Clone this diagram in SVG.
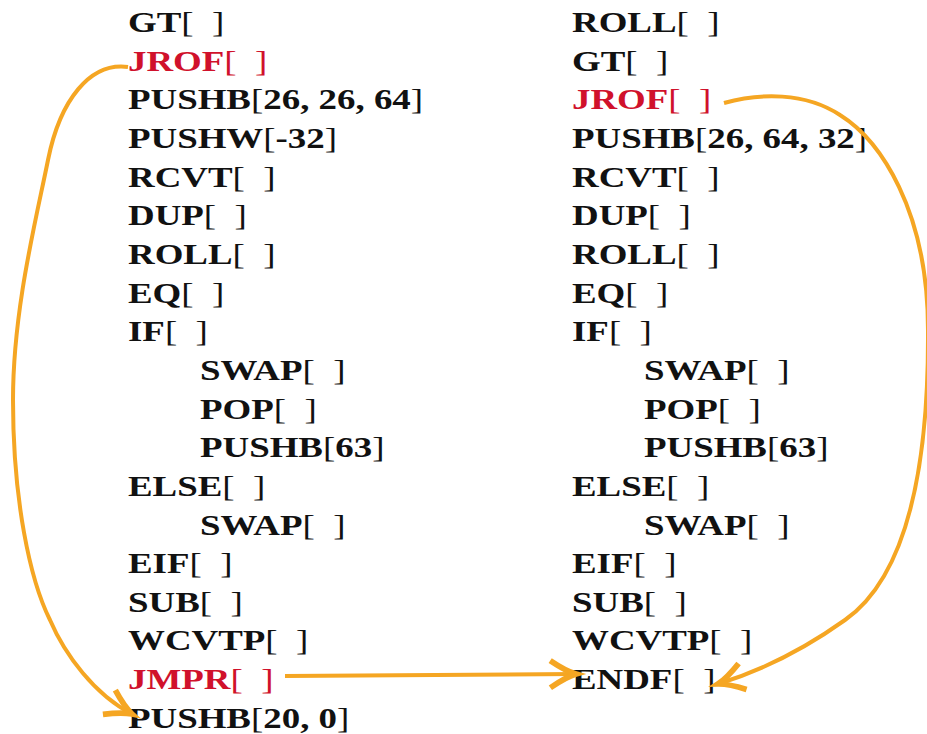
<svg xmlns="http://www.w3.org/2000/svg" width="927" height="734" viewBox="0 0 927 734">
  <defs>
    <style>
      text { font-family: "Liberation Serif", "Times New Roman", serif; font-size: 30px; font-weight: bold; fill: #111; }
      .red text, text.red { fill: #d0112b; }
      .br { font-weight: normal; }
      .conn { fill: none; stroke: #f5a623; stroke-width: 4; stroke-linecap: butt; }
    </style>
    <marker id="tip" markerUnits="userSpaceOnUse" markerWidth="40" markerHeight="40" viewBox="-22 -14 28 28" refX="0" refY="0" orient="auto" overflow="visible">
      <path d="M -18 -9.5 Q -7 -2 0 0 Q -7 2 -18 9.5" fill="none" stroke="#f5a623" stroke-width="4"/>
    </marker>
  </defs>

  <rect width="927" height="734" fill="#ffffff"/>

  <!-- left listing -->
  <g id="left">
    <g id="l00" transform="translate(128 32) scale(1.23 1)"><text>GT<tspan class="br">[&#160;&#160;]</tspan></text></g>
    <g id="l01" class="red" transform="translate(128 70.6) scale(1.23 1)"><text>JROF<tspan class="br">[&#160;&#160;]</tspan></text></g>
    <g id="l02" transform="translate(128 109.3) scale(1.23 1)"><text>PUSHB<tspan class="br">[</tspan>26, 26, 64<tspan class="br">]</tspan></text></g>
    <g id="l03" transform="translate(128 148) scale(1.23 1)"><text>PUSHW<tspan class="br">[</tspan>-32<tspan class="br">]</tspan></text></g>
    <g id="l04" transform="translate(128 186.6) scale(1.23 1)"><text>RCVT<tspan class="br">[&#160;&#160;]</tspan></text></g>
    <g id="l05" transform="translate(128 225.3) scale(1.23 1)"><text>DUP<tspan class="br">[&#160;&#160;]</tspan></text></g>
    <g id="l06" transform="translate(128 263.9) scale(1.23 1)"><text>ROLL<tspan class="br">[&#160;&#160;]</tspan></text></g>
    <g id="l07" transform="translate(128 302.6) scale(1.23 1)"><text>EQ<tspan class="br">[&#160;&#160;]</tspan></text></g>
    <g id="l08" transform="translate(128 341.2) scale(1.23 1)"><text>IF<tspan class="br">[&#160;&#160;]</tspan></text></g>
    <g id="l09" transform="translate(200 379.9) scale(1.23 1)"><text>SWAP<tspan class="br">[&#160;&#160;]</tspan></text></g>
    <g id="l10" transform="translate(200 418.5) scale(1.23 1)"><text>POP<tspan class="br">[&#160;&#160;]</tspan></text></g>
    <g id="l11" transform="translate(200 457.2) scale(1.23 1)"><text>PUSHB<tspan class="br">[</tspan>63<tspan class="br">]</tspan></text></g>
    <g id="l12" transform="translate(128 495.8) scale(1.23 1)"><text>ELSE<tspan class="br">[&#160;&#160;]</tspan></text></g>
    <g id="l13" transform="translate(200 534.5) scale(1.23 1)"><text>SWAP<tspan class="br">[&#160;&#160;]</tspan></text></g>
    <g id="l14" transform="translate(128 573.1) scale(1.23 1)"><text>EIF<tspan class="br">[&#160;&#160;]</tspan></text></g>
    <g id="l15" transform="translate(128 611.8) scale(1.23 1)"><text>SUB<tspan class="br">[&#160;&#160;]</tspan></text></g>
    <g id="l16" transform="translate(128 650.4) scale(1.23 1)"><text>WCVTP<tspan class="br">[&#160;&#160;]</tspan></text></g>
    <g id="l17" class="red" transform="translate(128 689.1) scale(1.23 1)"><text>JMPR<tspan class="br">[&#160;&#160;]</tspan></text></g>
    <g id="l18" transform="translate(128 727.7) scale(1.23 1)"><text>PUSHB<tspan class="br">[</tspan>20, 0<tspan class="br">]</tspan></text></g>
  </g>

  <!-- right listing -->
  <g id="right">
    <g id="r00" transform="translate(572 32) scale(1.23 1)"><text>ROLL<tspan class="br">[&#160;&#160;]</tspan></text></g>
    <g id="r01" transform="translate(572 70.6) scale(1.23 1)"><text>GT<tspan class="br">[&#160;&#160;]</tspan></text></g>
    <g id="r02" class="red" transform="translate(572 109.3) scale(1.23 1)"><text>JROF<tspan class="br">[&#160;&#160;]</tspan></text></g>
    <g id="r03" transform="translate(572 148) scale(1.23 1)"><text>PUSHB<tspan class="br">[</tspan>26, 64, 32<tspan class="br">]</tspan></text></g>
    <g id="r04" transform="translate(572 186.6) scale(1.23 1)"><text>RCVT<tspan class="br">[&#160;&#160;]</tspan></text></g>
    <g id="r05" transform="translate(572 225.3) scale(1.23 1)"><text>DUP<tspan class="br">[&#160;&#160;]</tspan></text></g>
    <g id="r06" transform="translate(572 263.9) scale(1.23 1)"><text>ROLL<tspan class="br">[&#160;&#160;]</tspan></text></g>
    <g id="r07" transform="translate(572 302.6) scale(1.23 1)"><text>EQ<tspan class="br">[&#160;&#160;]</tspan></text></g>
    <g id="r08" transform="translate(572 341.2) scale(1.23 1)"><text>IF<tspan class="br">[&#160;&#160;]</tspan></text></g>
    <g id="r09" transform="translate(644 379.9) scale(1.23 1)"><text>SWAP<tspan class="br">[&#160;&#160;]</tspan></text></g>
    <g id="r10" transform="translate(644 418.5) scale(1.23 1)"><text>POP<tspan class="br">[&#160;&#160;]</tspan></text></g>
    <g id="r11" transform="translate(644 457.2) scale(1.23 1)"><text>PUSHB<tspan class="br">[</tspan>63<tspan class="br">]</tspan></text></g>
    <g id="r12" transform="translate(572 495.8) scale(1.23 1)"><text>ELSE<tspan class="br">[&#160;&#160;]</tspan></text></g>
    <g id="r13" transform="translate(644 534.5) scale(1.23 1)"><text>SWAP<tspan class="br">[&#160;&#160;]</tspan></text></g>
    <g id="r14" transform="translate(572 573.1) scale(1.23 1)"><text>EIF<tspan class="br">[&#160;&#160;]</tspan></text></g>
    <g id="r15" transform="translate(572 611.8) scale(1.23 1)"><text>SUB<tspan class="br">[&#160;&#160;]</tspan></text></g>
    <g id="r16" transform="translate(572 650.4) scale(1.23 1)"><text>WCVTP<tspan class="br">[&#160;&#160;]</tspan></text></g>
    <g id="r17" transform="translate(572 689.1) scale(1.23 1)"><text>ENDF<tspan class="br">[&#160;&#160;]</tspan></text></g>
  </g>

  <!-- jump connectors -->
  <g id="connectors">
    <path id="c-jrof-left" class="conn" marker-end="url(#tip)"
          d="M 128 67 C 90 62, 60 100, 48 160 C 36 220, 13 310, 13 400 C 13 500, 30 580, 50 620 C 65 655, 95 695, 132 714"/>
    <path id="c-jmpr" class="conn" marker-end="url(#tip)" d="M 285 676 L 576 674"/>
    <path id="c-jrof-right" class="conn" marker-end="url(#tip)"
          d="M 724 103 C 760 93, 805 92, 840 115 C 880 140, 928 210, 928 330 C 929 500, 895 585, 845 620 C 810 645, 770 668, 718 684"/>
  </g>
</svg>
